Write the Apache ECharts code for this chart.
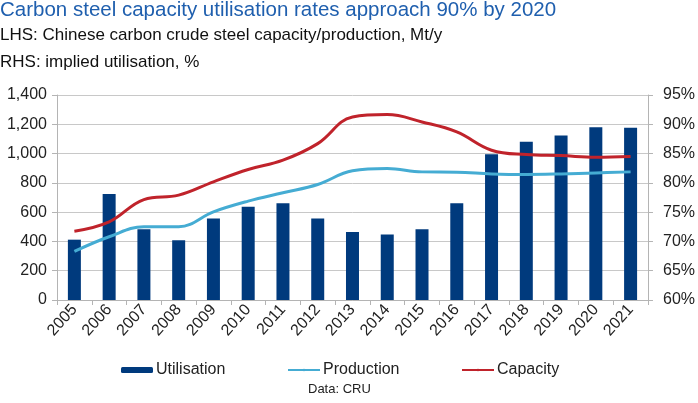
<!DOCTYPE html>
<html>
<head>
<meta charset="utf-8">
<script src="https://cdn.jsdelivr.net/npm/echarts@6/dist/echarts.min.js"></script>
<style>
    html, body {margin: 0; padding: 0; background: #fff;}
    #chart {width: 698px; height: 403px;}
</style>
</head>
<body>
<div id="chart"></div>
<script>
// 年份
const years = ['2005', '2006', '2007', '2008', '2009', '2010', '2011', '2012', '2013',
    '2014', '2015', '2016', '2017', '2018', '2019', '2020', '2021']
// 利用率 %, 右轴
const utilisation = [70.3, 78.1, 72.1, 70.2, 73.9, 75.9, 76.5, 73.9, 71.6,
    71.2, 72.1, 76.5, 84.9, 87.0, 88.1, 89.5, 89.4]
// 产量 Mt/y, 左轴
const production = [332, 432, 500, 500, 602, 675, 732, 789, 882,
    898, 875, 873, 861, 857, 861, 868, 875]
// 产能 Mt/y, 左轴
const capacity = [470, 534, 686, 716, 807, 891, 955, 1068, 1250,
    1266, 1216, 1148, 1023, 993, 986, 975, 980]

const FONT = 'Liberation Sans, Arial, sans-serif'
const AXIS_GREY = '#b4b4b4'

const legendBase = function (name, left, itemHeight) {
    return {
        data: [name],
        left: left,
        top: 362,
        itemWidth: 32,
        itemHeight: itemHeight,
        itemGap: 4,
        padding: 0,
        textStyle: {fontFamily: FONT, fontSize: 16, color: '#222', padding: [0, 0, 0, -2]}
    }
}

let chart = echarts.init(document.getElementById('chart'), null, {renderer: 'canvas'})
chart.setOption({
    animation: false,
    title: [
        {
            text: 'Carbon steel capacity utilisation rates approach 90% by 2020',
            left: 0, top: 0, padding: 0,
            textStyle: {fontFamily: FONT, fontSize: 20.5, fontWeight: 'normal', color: '#1f5fae'}
        },
        {
            text: 'LHS: Chinese carbon crude steel capacity/production, Mt/y',
            left: 0, top: 27, padding: 0,
            textStyle: {fontFamily: FONT, fontSize: 17, fontWeight: 'normal', color: '#111'}
        },
        {
            text: 'RHS: implied utilisation, %',
            left: 0, top: 54, padding: 0,
            textStyle: {fontFamily: FONT, fontSize: 17, fontWeight: 'normal', color: '#111'}
        },
        {
            text: 'Data: CRU',
            left: 308, top: 383, padding: 0,
            textStyle: {fontFamily: FONT, fontSize: 13, fontWeight: 'normal', color: '#222'}
        }
    ],
    legend: [
        legendBase('Utilisation', 121, 6),
        legendBase('Production', 287, 3),
        legendBase('Capacity', 461, 3)
    ],
    grid: {left: 57, right: 49, top: 95, bottom: 103, containLabel: false},
    xAxis: {
        type: 'category',
        data: years,
        boundaryGap: true,
        axisLine: {lineStyle: {color: AXIS_GREY}},
        axisTick: {show: true, length: 5, alignWithLabel: false, lineStyle: {color: AXIS_GREY}},
        axisLabel: {
            interval: 0, rotate: 48, margin: 7,
            fontFamily: FONT, fontSize: 16, color: '#222'
        }
    },
    yAxis: [
        {
            type: 'value',
            min: 0, max: 1400, interval: 200,
            axisLine: {show: true, lineStyle: {color: AXIS_GREY}},
            axisTick: {show: true, length: 5, lineStyle: {color: AXIS_GREY}},
            splitLine: {lineStyle: {color: '#c8c8c8'}},
            axisLabel: {
                fontFamily: FONT, fontSize: 16, color: '#222', margin: 10,
                formatter: function (v) {
                    return v.toLocaleString('en-US')
                }
            }
        },
        {
            type: 'value',
            min: 60, max: 95, interval: 5,
            axisLine: {show: true, lineStyle: {color: AXIS_GREY}},
            axisTick: {show: true, length: 5, lineStyle: {color: AXIS_GREY}},
            splitLine: {show: false},
            axisLabel: {fontFamily: FONT, fontSize: 16, color: '#222', margin: 15, formatter: '{value}%'}
        }
    ],
    series: [
        {
            name: 'Utilisation',
            type: 'bar',
            yAxisIndex: 1,
            data: utilisation,
            barWidth: 13,
            itemStyle: {color: '#003a7d'}
        },
        {
            name: 'Production',
            type: 'line',
            yAxisIndex: 0,
            data: production,
            smooth: 0.4,
            symbol: 'none',
            lineStyle: {width: 3, color: '#45acd3'},
            itemStyle: {color: '#45acd3'}
        },
        {
            name: 'Capacity',
            type: 'line',
            yAxisIndex: 0,
            data: capacity,
            smooth: 0.4,
            symbol: 'none',
            lineStyle: {width: 3, color: '#c0232b'},
            itemStyle: {color: '#c0232b'}
        }
    ]
})
</script>
</body>
</html>
